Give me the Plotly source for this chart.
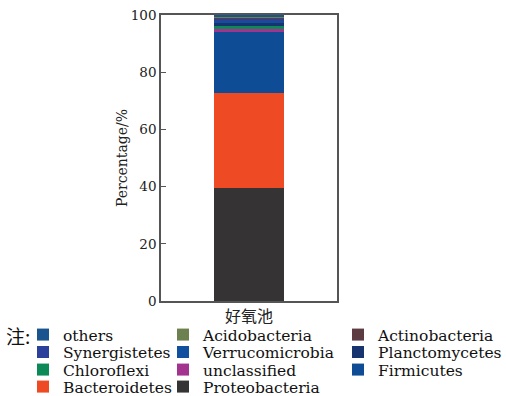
import plotly.graph_objects as go

category = ["好氧池"]
# stacking order bottom -> top
phyla = ["Proteobacteria", "Bacteroidetes", "Firmicutes", "unclassified", "Chloroflexi",
         "Planctomycetes", "Verrucomicrobia", "Synergistetes", "Actinobacteria",
         "Acidobacteria", "others"]
values = [39.5, 33.2, 21.3, 1.2, 0.9, 1.2, 0.6, 0.8, 0.3, 0.2, 0.8]
colors = ["#363334", "#ee4b24", "#0e4c96", "#a2348f", "#0b8a58", "#17346f",
          "#10509e", "#2a409a", "#5c3b43", "#6d8050", "#19548f"]
# legend grid placement (column, row) as printed in the note
legend_cell = {"others": (0, 0), "Acidobacteria": (1, 0), "Actinobacteria": (2, 0),
               "Synergistetes": (0, 1), "Verrucomicrobia": (1, 1), "Planctomycetes": (2, 1),
               "Chloroflexi": (0, 2), "unclassified": (1, 2), "Firmicutes": (2, 2),
               "Bacteroidetes": (0, 3), "Proteobacteria": (1, 3)}

L, T, PW, PH = 161, 15, 176, 286
col_text_px = [64, 204, 379]
row_px = [335, 352.5, 370, 387]

def px_to_paper_x(px):
    return (px - L) / PW

def px_to_paper_y(py):
    return (T + PH - py) / PH

font_family = "DejaVu Serif"
fig = go.Figure()
legends = {}
for i, (name, v, c) in enumerate(zip(phyla, values, colors)):
    lname = "legend" if i == 0 else f"legend{i + 1}"
    col, row = legend_cell[name]
    legends[lname] = dict(
        x=px_to_paper_x(col_text_px[col] - 41), y=px_to_paper_y(row_px[row]),
        xanchor="left", yanchor="middle", orientation="v",
        font=dict(family=font_family, size=15.5, color="#111"),
        bgcolor="rgba(0,0,0,0)", borderwidth=0)
    fig.add_trace(go.Bar(x=category, y=[v], name=name, showlegend=True,
                         marker=dict(color=c, line=dict(width=0)),
                         width=0.4, legend=lname))

fig.update_layout(
    barmode="stack",
    showlegend=True,
    width=506, height=396,
    margin=dict(l=L, r=506 - L - PW, t=T, b=396 - T - PH, autoexpand=False),
    paper_bgcolor="white", plot_bgcolor="white",
    font=dict(family=font_family, color="#111"),
    xaxis=dict(showline=True, linecolor="#555", linewidth=1.5, mirror=True, ticks="",
               tickfont=dict(family="Noto Sans CJK SC", size=16, color="#222"),
               range=[-0.5, 0.5]),
    yaxis=dict(range=[0, 100], tickvals=[0, 20, 40, 60, 80, 100], showline=True,
               linecolor="#555", linewidth=1.5, mirror=True, ticks="inside", ticklen=5,
               tickcolor="#555", showgrid=False, zeroline=False,
               tickfont=dict(family=font_family, size=13.5, color="#222"),
               title=dict(text="Percentage/%", font=dict(family=font_family, size=14, color="#222"),
                          standoff=0)),
    bargap=0,
    annotations=[dict(text="注:", x=px_to_paper_x(4), y=px_to_paper_y(335),
                      xref="paper", yref="paper", showarrow=False, xanchor="left",
                      yanchor="middle",
                      font=dict(family="Noto Sans CJK SC", size=19, color="#111"))],
    **legends,
)

fig.write_html("out.html")
